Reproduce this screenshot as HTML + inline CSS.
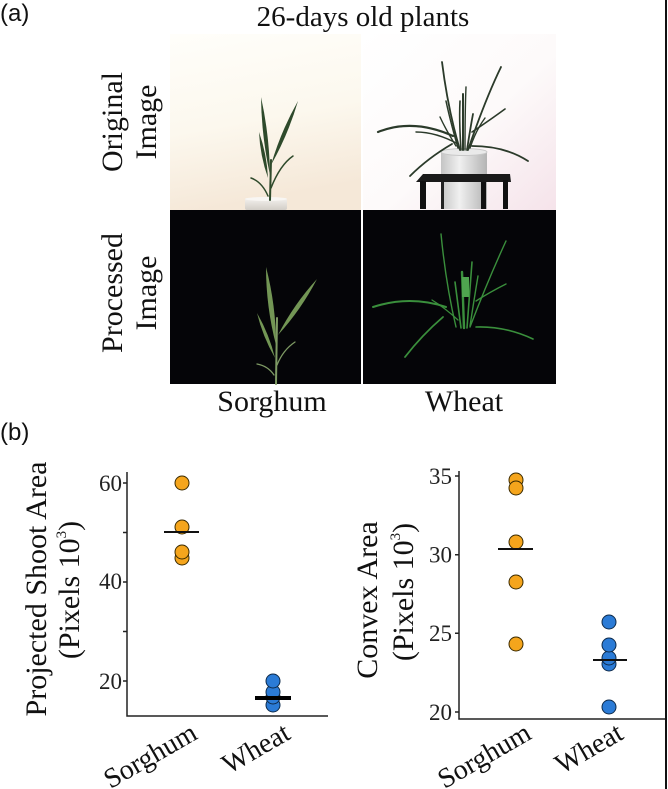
<!DOCTYPE html>
<html><head><meta charset="utf-8"><style>
html,body{margin:0;padding:0;background:#fff;}
svg{display:block;}
</style></head><body>
<svg width="668" height="789" viewBox="0 0 668 789" xmlns="http://www.w3.org/2000/svg">
<defs>
<linearGradient id="sbg" x1="0" y1="0" x2="0.2" y2="1">
<stop offset="0" stop-color="#FFFEFA"/><stop offset="0.55" stop-color="#FCF8EE"/><stop offset="1" stop-color="#F5E8D8"/>
</linearGradient>
<linearGradient id="wbg" x1="0" y1="0" x2="1" y2="1">
<stop offset="0" stop-color="#FFFFFF"/><stop offset="0.55" stop-color="#FDFAFA"/><stop offset="1" stop-color="#F5E3EA"/>
</linearGradient>
<linearGradient id="pot" x1="0" y1="0" x2="1" y2="0">
<stop offset="0" stop-color="#C4C4C4"/><stop offset="0.4" stop-color="#F0F0F0"/><stop offset="1" stop-color="#B4B4B4"/>
</linearGradient>
<linearGradient id="spot" x1="0" y1="0" x2="0" y2="1">
<stop offset="0" stop-color="#F4F1EE"/><stop offset="1" stop-color="#D2CDC7"/>
</linearGradient>
</defs>

<!-- (a) -->
<text x="0" y="21" font-family="Liberation Sans, sans-serif" font-size="24" fill="#111">(a)</text>
<text x="363" y="26" text-anchor="middle" font-family="Liberation Serif, serif" font-size="29" fill="#111">26-days old plants</text>

<!-- Row labels -->
<g font-family="Liberation Serif, serif" font-size="30" fill="#111" text-anchor="middle">
<text transform="translate(122,122) rotate(-90)">Original</text>
<text transform="translate(156,122) rotate(-90)">Image</text>
<text transform="translate(122,293) rotate(-90)">Processed</text>
<text transform="translate(156,293) rotate(-90)">Image</text>
</g>

<!-- Original sorghum -->
<rect x="170" y="34" width="191" height="176" fill="url(#sbg)"/>
<rect x="245" y="198" width="42" height="12" rx="2" fill="url(#spot)"/>
<ellipse cx="266" cy="199" rx="21" ry="2" fill="#F8F6F3"/>
<g fill="#2E4A2B" stroke="none">
<path d="M270 175 Q269.5 135.5 261 97 Q261.5 136.5 270 175 Z"/>
<path d="M271 165 Q288.2 134.6 298 101 Q280.8 131.4 271 165 Z"/>
<path d="M268 178 Q266.9 154.3 259 132 Q260.1 155.7 268 178 Z"/>
</g>
<g fill="none" stroke="#2E4A2B" stroke-linecap="round">
<path d="M270 200 L271 160" stroke-width="2"/>
<path d="M271 188 Q280 165 293 156" stroke-width="1.5"/>
<path d="M268 196 Q262 182 251 178" stroke-width="1.5"/>
</g>

<!-- Original wheat -->
<rect x="363" y="34" width="193" height="176" fill="url(#wbg)"/>
<rect x="441" y="151" width="46" height="58" fill="url(#pot)"/>
<ellipse cx="464" cy="152" rx="23" ry="3.5" fill="#EAEAEA" stroke="#C8C8C8" stroke-width="1"/>
<polygon points="423,174 510,174 511,182 416,182" fill="#1a1a1a"/>
<rect x="420" y="181" width="6" height="28" fill="#111"/>
<rect x="503" y="180" width="5" height="29" fill="#111"/>
<rect x="441" y="182" width="3" height="27" fill="#222"/>
<rect x="481" y="182" width="5" height="27" fill="#111"/>
<g fill="none" stroke="#2B3A2A" stroke-linecap="round">
<path d="M460 150 Q448 110 442 62" stroke-width="1.8"/>
<path d="M468 150 Q485 100 501 67" stroke-width="1.8"/>
<path d="M453 136 Q413 118 378 132" stroke-width="2.2"/>
<path d="M472 146 Q505 146 528 161" stroke-width="1.8"/>
<path d="M452 144 Q428 158 410 176" stroke-width="1.8"/>
<path d="M472 132 Q490 120 505 109" stroke-width="1.6"/>
<path d="M463 150 L463 94" stroke-width="2"/>
<path d="M461 150 Q459 120 460 101" stroke-width="1.6"/>
<path d="M458 148 Q450 120 446 101" stroke-width="1.5"/>
<path d="M467 150 Q470 130 473 114" stroke-width="1.8"/>
<path d="M456 146 Q446 130 440 117" stroke-width="1.4"/>
<path d="M465 150 Q465 110 466 87" stroke-width="1.4"/>
<path d="M458 144 Q436 132 416 132" stroke-width="1.4"/>
<path d="M470 148 Q476 130 485 118" stroke-width="1.4"/>
</g>

<!-- Processed sorghum -->
<rect x="170" y="210" width="191" height="174" fill="#050508"/>
<g fill="#739655">
<path d="M276 345 Q276 305.4 266 267 Q266 306.6 276 345 Z"/>
<path d="M278 335 Q301.2 309.6 317 279 Q293.8 304.4 278 335 Z"/>
<path d="M275 358 Q269.2 334.2 257 313 Q262.8 336.8 275 358 Z"/>
</g>
<g fill="none" stroke="#7E9A64" stroke-linecap="round">
<path d="M276 384 L277 318" stroke-width="2"/>
<path d="M277 365 Q283 350 295 342" stroke-width="1.3"/>
<path d="M274 375 Q268 366 257 364" stroke-width="1.3"/>
</g>

<!-- Processed wheat -->
<rect x="363" y="210" width="193" height="174" fill="#050508"/>
<g fill="none" stroke="#3A8F3C" stroke-linecap="round">
<path d="M456 327 Q446 285 441 234" stroke-width="1.4"/>
<path d="M470 327 Q488 280 506 241" stroke-width="1.4"/>
<path d="M446 307 Q410 295 373 307" stroke-width="2"/>
<path d="M476 327 Q505 326 533 339" stroke-width="1.6"/>
<path d="M443 317 Q422 335 405 357" stroke-width="1.8"/>
<path d="M476 301 Q490 292 506 284" stroke-width="1.4"/>
<path d="M464 328 L462 272" stroke-width="2.4"/>
<path d="M467 328 L472 262" stroke-width="1.6"/>
<path d="M461 328 L455 282" stroke-width="1.6"/>
<path d="M458 320 Q445 308 432 300" stroke-width="1.3"/>
<path d="M470 326 Q474 300 478 276" stroke-width="1.4"/>
</g>
<rect x="462" y="277" width="7" height="20" fill="#4FA44F"/>

<!-- white separator -->
<rect x="361" y="34" width="2" height="350" fill="#fff"/>

<!-- column labels -->
<g font-family="Liberation Serif, serif" font-size="30" fill="#111" text-anchor="middle">
<text x="272" y="411">Sorghum</text>
<text x="464" y="411">Wheat</text>
</g>

<!-- (b) -->
<text x="0" y="440" font-family="Liberation Sans, sans-serif" font-size="24" fill="#111">(b)</text>

<!-- right border -->
<rect x="665" y="0" width="2" height="789" fill="#111"/>

<!-- LEFT CHART -->
<g stroke="#222" stroke-width="1.5" fill="none">
<path d="M127 472 L127 716 L328 716"/>
<path d="M123 483 L127 483 M123 532.5 L127 532.5 M123 582 L127 582 M123 631.5 L127 631.5 M123 681 L127 681"/>
</g>
<g font-family="Liberation Serif, serif" font-size="23" fill="#222" text-anchor="end">
<text x="122" y="491">60</text>
<text x="122" y="589">40</text>
<text x="122" y="689">20</text>
</g>
<g font-family="Liberation Serif, serif" font-size="30" fill="#111" text-anchor="middle">
<text transform="translate(46,589) rotate(-90)">Projected Shoot Area</text>
<text transform="translate(79,590) rotate(-90)">(Pixels 10<tspan dy="-13" font-size="15">3</tspan><tspan dy="13">)</tspan></text>
</g>
<g stroke="#3a2a00" stroke-width="1" fill="#F5A51C">
<circle cx="182" cy="483" r="7"/>
<circle cx="182" cy="558" r="7"/>
<circle cx="182" cy="552" r="7"/>
<circle cx="182" cy="527" r="7"/>
</g>
<path d="M164 532 L199 532" stroke="#111" stroke-width="2"/>
<g stroke="#0d2a4a" stroke-width="1" fill="#2B7BD6">
<circle cx="273" cy="705" r="7"/>
<circle cx="273" cy="697" r="7"/>
<circle cx="273" cy="692" r="7"/>
<circle cx="273" cy="681" r="7"/>
</g>
<path d="M255 698 L291 698" stroke="#000" stroke-width="4"/>
<g font-family="Liberation Serif, serif" font-size="28" fill="#111" text-anchor="end">
<text transform="translate(199,738) rotate(-30)">Sorghum</text>
<text transform="translate(292,738) rotate(-30)">Wheat</text>
</g>

<!-- RIGHT CHART -->
<g stroke="#222" stroke-width="1.5" fill="none">
<path d="M459 471 L459 719 L665 719"/>
<path d="M455 476 L459 476 M455 554.7 L459 554.7 M455 633.3 L459 633.3 M455 712 L459 712"/>
</g>
<g font-family="Liberation Serif, serif" font-size="23" fill="#222" text-anchor="end">
<text x="452" y="484">35</text>
<text x="452" y="562.5">30</text>
<text x="452" y="641">25</text>
<text x="452" y="720">20</text>
</g>
<g font-family="Liberation Serif, serif" font-size="30" fill="#111" text-anchor="middle">
<text transform="translate(377,600) rotate(-90)">Convex Area</text>
<text transform="translate(413,592) rotate(-90)">(Pixels 10<tspan dy="-13" font-size="15">3</tspan><tspan dy="13">)</tspan></text>
</g>
<g stroke="#3a2a00" stroke-width="1" fill="#F5A51C">
<circle cx="516" cy="644" r="7"/>
<circle cx="516" cy="582" r="7"/>
<circle cx="516" cy="542" r="7"/>
<circle cx="516" cy="480" r="7"/>
<circle cx="516" cy="488" r="7"/>
</g>
<path d="M498 549 L533 549" stroke="#111" stroke-width="2"/>
<g stroke="#0d2a4a" stroke-width="1" fill="#2B7BD6">
<circle cx="609" cy="707" r="7"/>
<circle cx="609" cy="664" r="7"/>
<circle cx="609" cy="658" r="7"/>
<circle cx="609" cy="645" r="7"/>
<circle cx="609" cy="622" r="7"/>
</g>
<path d="M593 660 L627 660" stroke="#111" stroke-width="2"/>
<g font-family="Liberation Serif, serif" font-size="28" fill="#111" text-anchor="end">
<text transform="translate(533,738) rotate(-30)">Sorghum</text>
<text transform="translate(625,738) rotate(-30)">Wheat</text>
</g>
</svg>
</body></html>
